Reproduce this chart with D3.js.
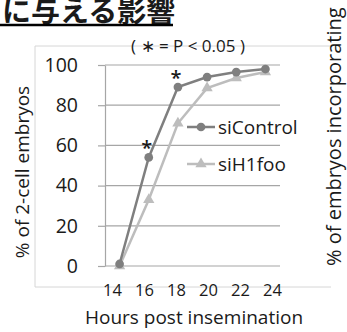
<!DOCTYPE html>
<html>
<head>
<meta charset="utf-8">
<script src="https://cdn.jsdelivr.net/npm/d3@7"></script>
<style>
  html, body { margin: 0; padding: 0; background: #fff; }
  svg { display: block; }
  text { font-family: "Open Sans", "Noto Sans", sans-serif; fill: #1a1a1a; }
</style>
</head>
<body>
<div id="chart"></div>
<script>
// values
const hours = ['14', '16', '18', '20', '22', '24'];
const siControl = [1, 54, 89, 94, 96.5, 98];
const siH1foo = [0, 33, 71, 88.5, 93.5, 96.5];
const starred = ['16', '18'];
const yTicks = [0, 20, 40, 60, 80, 100];
const hourLabels = [14, 16, 18, 20, 22, 24];

const width = 347;
const height = 332;
const plot = { left: 105, right: 280, top: 65, bottom: 266 };

const svg = d3.select('#chart')
    .append('svg')
    .attr('width', width)
    .attr('height', height);

// slide title fragment (cut off at the top like the source slide)
svg.append('text')
    .attr('x', 2)
    .attr('y', 22)
    .style('font-family', '"Noto Sans CJK JP", sans-serif')
    .style('font-size', '29px')
    .style('font-weight', 700)
    .text('に与える影響');
svg.append('line')
    .attr('x1', 0).attr('x2', 173)
    .attr('y1', 25).attr('y2', 25)
    .attr('stroke', '#000')
    .attr('stroke-width', 2.5);

// faint chart frame
svg.append('path')
    .attr('d', 'M331,46 H35 V287 H331')
    .attr('fill', 'none')
    .attr('stroke', '#d6d6d6');

svg.append('text')
    .attr('x', 188)
    .attr('y', 52)
    .attr('text-anchor', 'middle')
    .style('font-size', '17px')
    .text('( ∗ = P < 0.05 )');

const x = d3.scalePoint()
    .domain(hours)
    .range([plot.left, plot.right])
    .padding(0.5);

const y = d3.scaleLinear()
    .domain([0, 100])
    .range([plot.bottom, plot.top]);

// gridlines
svg.append('g')
    .selectAll('line')
    .data(yTicks.filter(d => d > 0))
    .enter()
    .append('line')
    .attr('x1', plot.left)
    .attr('x2', plot.right)
    .attr('y1', d => y(d))
    .attr('y2', d => y(d))
    .attr('stroke', '#a6a6a6')
    .attr('stroke-width', 1.2);

// y axis
const yAxis = svg.append('g')
    .attr('transform', `translate(${plot.left},0)`)
    .call(d3.axisLeft(y).tickValues(yTicks).tickSize(7).tickPadding(20).tickSizeOuter(0));
yAxis.selectAll('text')
    .style('font-size', '19.5px')
    .style('font-family', '"Open Sans", sans-serif')
    .attr('fill', '#1a1a1a');
yAxis.selectAll('.domain, .tick line').attr('stroke', '#a6a6a6').attr('stroke-width', 1.2);

// x axis baseline
svg.append('line')
    .attr('x1', plot.left)
    .attr('x2', plot.right)
    .attr('y1', y(0))
    .attr('y2', y(0))
    .attr('stroke', '#a6a6a6')
    .attr('stroke-width', 1.2);

// hour labels under the chart
const labelScale = d3.scaleLinear().domain([14, 24]).range([112, 272]);
svg.append('g')
    .attr('transform', 'translate(0,290)')
    .call(d3.axisBottom(labelScale).tickValues(hourLabels).tickSize(0).tickPadding(0))
    .call(g => g.select('.domain').remove())
    .selectAll('text')
    .attr('dy', '0.35em')
    .style('font-size', '16.5px')
    .style('font-family', '"Open Sans", sans-serif')
    .attr('fill', '#1a1a1a');

const line = d3.line()
    .x((d, i) => x(hours[i]))
    .y(d => y(d));

const series = [
    { name: 'siH1foo', values: siH1foo, color: '#bdbdbd', shape: d3.symbolTriangle },
    { name: 'siControl', values: siControl, color: '#7f7f7f', shape: d3.symbolCircle }
];

series.forEach(s => {
    svg.append('path')
        .datum(s.values)
        .attr('d', line)
        .attr('fill', 'none')
        .attr('stroke', s.color)
        .attr('stroke-width', 2.5);
    svg.append('g')
        .selectAll('path')
        .data(s.values)
        .enter()
        .append('path')
        .attr('transform', (d, i) => `translate(${x(hours[i])},${y(d)})`)
        .attr('d', d3.symbol().type(s.shape).size(s.shape === d3.symbolCircle ? 60 : 55))
        .attr('fill', s.color);
});

// significance stars
svg.append('g')
    .selectAll('text')
    .data(starred)
    .enter()
    .append('text')
    .attr('x', d => x(d) - 2)
    .attr('y', d => y(siControl[hours.indexOf(d)]) - 2)
    .attr('text-anchor', 'middle')
    .style('font-size', '20px')
    .style('font-weight', 600)
    .text('*');

// legend
const legend = svg.append('g');
[series[1], series[0]].forEach((s, i) => {
    const ly = 127 + i * 37;
    legend.append('line')
        .attr('x1', 187).attr('x2', 215)
        .attr('y1', ly).attr('y2', ly)
        .attr('stroke', s.color)
        .attr('stroke-width', 2.5);
    legend.append('path')
        .attr('transform', `translate(201,${ly})`)
        .attr('d', d3.symbol().type(s.shape).size(s.shape === d3.symbolCircle ? 60 : 55))
        .attr('fill', s.color);
    legend.append('text')
        .attr('x', 218)
        .attr('y', ly)
        .attr('dy', '0.35em')
        .style('font-size', '19px')
        .text(s.name);
});

// axis titles
svg.append('text')
    .attr('transform', 'translate(29,172) rotate(-90)')
    .attr('text-anchor', 'middle')
    .style('font-size', '19px')
    .text('% of 2-cell embryos');

svg.append('text')
    .attr('x', 194)
    .attr('y', 324)
    .attr('text-anchor', 'middle')
    .style('font-size', '19px')
    .text('Hours post insemination');

svg.append('text')
    .attr('transform', 'translate(341,266) rotate(-90)')
    .style('font-size', '20px')
    .text('% of embryos incorporating');
</script>
</body>
</html>
